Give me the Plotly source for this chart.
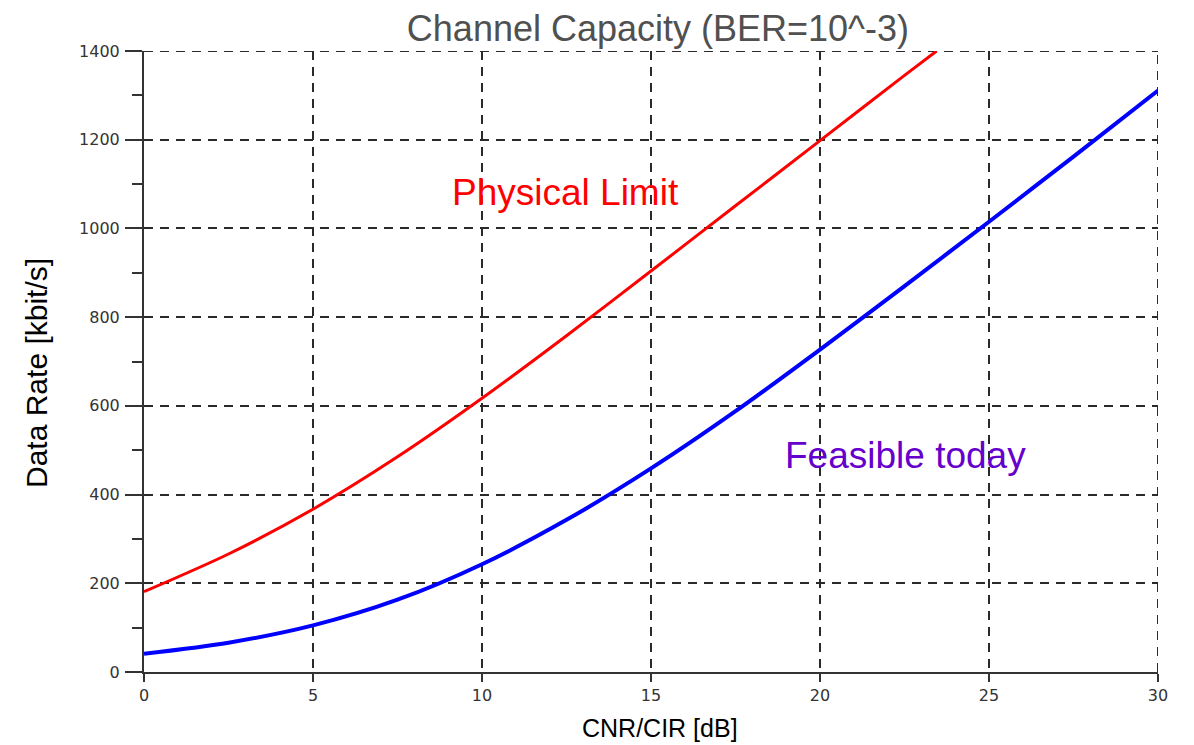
import plotly.graph_objects as go

# CNR/CIR [dB]
x_red = [0, 2.5, 5, 7.5, 10, 12.5, 15, 17.5, 20, 22.5, 23.45]
physical_limit = [181, 266, 367, 485, 617, 758, 904, 1051, 1198, 1345, 1400]

x_blue = [0, 2.5, 5, 7.5, 10, 12.5, 15, 17.5, 20, 22.5, 25, 27.5, 30]
feasible_today = [41, 66, 105, 163, 243, 343, 459, 588, 727, 870, 1015, 1162, 1311]

x_ticks = [0, 5, 10, 15, 20, 25, 30]
y_ticks = [0, 200, 400, 600, 800, 1000, 1200, 1400]

GRID = "#2a2a2a"
DASH = "9px,7px"

fig = go.Figure()
fig.add_trace(go.Scatter(x=x_red, y=physical_limit, mode="lines",
                         line=dict(color="#ff0000", width=3, shape="spline", smoothing=0.8),
                         name="Physical Limit", showlegend=False))
fig.add_trace(go.Scatter(x=x_blue, y=feasible_today, mode="lines",
                         line=dict(color="#0000ff", width=4, shape="spline", smoothing=0.8),
                         name="Feasible today", showlegend=False))

fig.add_annotation(x=12.46, y=1082, text="Physical Limit", showarrow=False,
                   font=dict(family="Liberation Sans, Arial", size=37, color="#ff0000"))
fig.add_annotation(x=22.54, y=489, text="Feasible today", showarrow=False,
                   font=dict(family="Liberation Sans, Arial", size=37, color="#6600cc"))

# axis titles as annotations (precise placement)
fig.add_annotation(xref="paper", yref="paper", x=-0.1055, y=0.4815, text="Data Rate [kbit/s]",
                   textangle=-90, showarrow=False, xanchor="center", yanchor="middle",
                   font=dict(family="Liberation Sans, Arial", size=30, color="#000000"))
fig.add_annotation(xref="paper", yref="paper", x=0.509, y=-0.0902, text="CNR/CIR [dB]",
                   showarrow=False, xanchor="center", yanchor="middle",
                   font=dict(family="Liberation Sans, Arial", size=25, color="#000000"))

# boundary grid lines (top at 1400, right at 30)
fig.add_shape(type="line", xref="x", yref="y", x0=0, x1=30, y0=1400, y1=1400,
              line=dict(color=GRID, width=2, dash=DASH), layer="below")
fig.add_shape(type="line", xref="x", yref="y", x0=30, x1=30, y0=0, y1=1400,
              line=dict(color=GRID, width=2, dash=DASH), layer="below")

fig.update_layout(
    width=1186, height=737,
    margin=dict(l=136, r=36, t=43, b=73, autoexpand=False),
    paper_bgcolor="white", plot_bgcolor="white",
    title=dict(text="Channel Capacity (BER=10^-3)", x=0.548, xanchor="center",
               y=0.973, yanchor="middle", automargin=False,
               font=dict(family="Liberation Sans, Arial", size=36, color="#505050")),
    font=dict(family="DejaVu Sans", color="#333333"),
)
fig.update_xaxes(
    range=[0, 30], tickvals=x_ticks, showline=True, linecolor="#333333", linewidth=2,
    ticks="outside", ticklen=8, tickwidth=2, tickcolor="#333333", automargin=False,
    showgrid=True, gridcolor=GRID, griddash=DASH, gridwidth=2, zeroline=False,
    tickfont=dict(family="DejaVu Sans", size=16, color="#333333"),
)
fig.update_yaxes(
    range=[0, 1400], tickvals=y_ticks, showline=True, linecolor="#333333", linewidth=2,
    ticks="outside", ticklen=17, tickwidth=2, tickcolor="#333333", automargin=False,
    ticklabelstandoff=2,
    minor=dict(dtick=100, ticks="outside", ticklen=10, tickwidth=2, tickcolor="#333333", showgrid=False),
    showgrid=True, gridcolor=GRID, griddash=DASH, gridwidth=2, zeroline=False,
    tickfont=dict(family="DejaVu Sans", size=16, color="#333333"),
)

fig.write_html("out.html")
